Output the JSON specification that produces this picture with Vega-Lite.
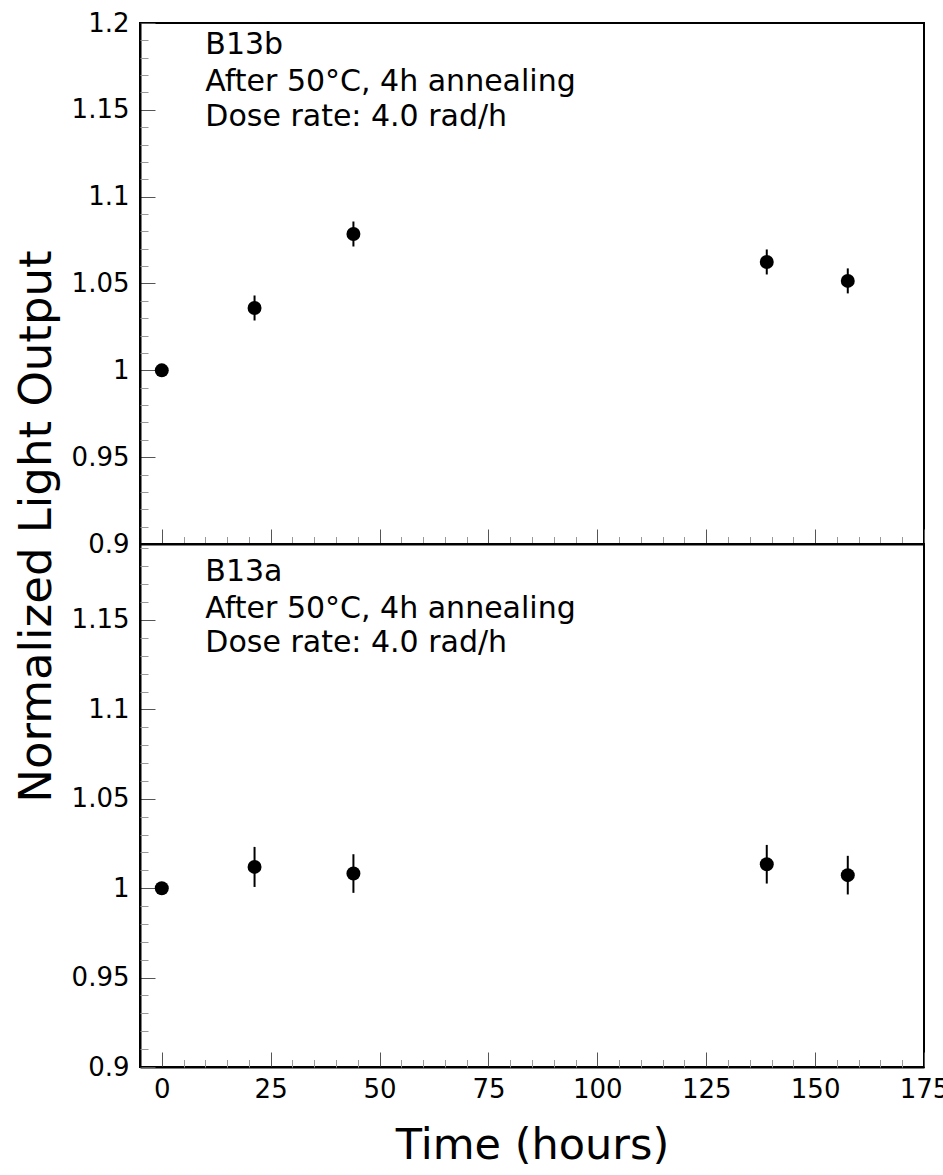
{
  "$schema": "https://vega.github.io/schema/vega-lite/v6.json",
  "background": "white",
  "padding": {"left": 13, "top": 9, "right": 0, "bottom": 0},
  "bounds": "flush",
  "spacing": 0,
  "config": {
    "font": "DejaVu Sans",
    "view": {"stroke": "black", "strokeWidth": 2},
    "axis": {
      "domainColor": "black", "domainWidth": 2, "tickColor": "#555", "tickWidth": 1,
      "labelColor": "black", "titleColor": "black", "grid": false,
      "labelFont": "DejaVu Sans", "titleFont": "DejaVu Sans", "titleFontWeight": "normal",
      "labelFontSize": 26
    }
  },
  "datasets": {
    "obs": [
      {"sample": "B13b", "t": 0, "v": 1.0, "e": 0},
      {"sample": "B13b", "t": 21.3, "v": 1.0359, "e": 0.0072},
      {"sample": "B13b", "t": 44, "v": 1.0785, "e": 0.0072},
      {"sample": "B13b", "t": 138.9, "v": 1.0624, "e": 0.0072},
      {"sample": "B13b", "t": 157.5, "v": 1.0515, "e": 0.0072},
      {"sample": "B13a", "t": 0, "v": 1.0, "e": 0},
      {"sample": "B13a", "t": 21.3, "v": 1.0119, "e": 0.0112},
      {"sample": "B13a", "t": 44, "v": 1.0082, "e": 0.0108},
      {"sample": "B13a", "t": 138.9, "v": 1.0134, "e": 0.0108},
      {"sample": "B13a", "t": 157.5, "v": 1.0073, "e": 0.0108}
    ],
    "notes": [
      {"sample": "B13b", "t": 10, "v": 1.1822, "note": "B13b"},
      {"sample": "B13b", "t": 10, "v": 1.1609, "note": "After 50°C, 4h annealing"},
      {"sample": "B13b", "t": 10, "v": 1.1407, "note": "Dose rate: 4.0 rad/h"},
      {"sample": "B13a", "t": 10, "v": 1.1719, "note": "B13a"},
      {"sample": "B13a", "t": 10, "v": 1.1513, "note": "After 50°C, 4h annealing"},
      {"sample": "B13a", "t": 10, "v": 1.1322, "note": "Dose rate: 4.0 rad/h"}
    ]
  },
  "vconcat": [
    {
      "width": 784,
      "height": 521,
      "layer": [
        {
          "data": {"name": "obs"},
          "transform": [{"filter": "datum.sample === 'B13b'"}],
          "mark": {"type": "errorbar", "thickness": 2, "color": "black"},
          "encoding": {
            "x": {"field": "t", "type": "quantitative", "scale": {"domain": [-5, 175], "nice": false, "zero": false}, "axis": null},
            "y": {"field": "v", "type": "quantitative", "scale": {"domain": [0.9, 1.2], "nice": false, "zero": false}, "axis": null},
            "yError": {"field": "e"}
          }
        },
        {
          "data": {"name": "obs"},
          "transform": [{"filter": "datum.sample === 'B13b'"}],
          "mark": {"type": "point", "filled": true, "size": 195, "color": "black", "opacity": 1},
          "encoding": {
            "x": {"field": "t", "type": "quantitative", "scale": {"domain": [-5, 175], "nice": false, "zero": false},
              "axis": {"values": [0, 25, 50, 75, 100, 125, 150, 175], "labels": false, "tickSize": -15, "title": null, "domain": true}},
            "y": {"field": "v", "type": "quantitative", "scale": {"domain": [0.9, 1.2], "nice": false, "zero": false},
              "axis": {"values": [0.9, 0.95, 1.0, 1.05, 1.1, 1.15, 1.2], "format": ".3~f", "tickSize": -15, "labelPadding": 26,
                "title": "Normalized Light Output", "titleFontSize": 45, "titleX": -104, "titleY": 503, "titleBaseline": "middle", "titleAlign": "center", "titleAngle": -90}}
          }
        },
        {
          "data": {"name": "obs"},
          "transform": [{"filter": "datum.sample === 'B13b'"}],
          "mark": {"type": "point", "opacity": 0},
          "encoding": {
            "x": {"field": "t", "type": "quantitative", "scale": {"domain": [-5, 175], "nice": false, "zero": false},
              "axis": {"orient": "bottom", "values": [-5, 5, 10, 15, 20, 30, 35, 40, 45, 55, 60, 65, 70, 80, 85, 90, 95, 105, 110, 115, 120, 130, 135, 140, 145, 155, 160, 165, 170], "labels": false, "domain": false, "tickSize": -7.5, "tickColor": "#999", "title": null}},
            "y": {"field": "v", "type": "quantitative", "scale": {"domain": [0.9, 1.2], "nice": false, "zero": false},
              "axis": {"orient": "left", "values": [0.91, 0.92, 0.93, 0.94, 0.96, 0.97, 0.98, 0.99, 1.01, 1.02, 1.03, 1.04, 1.06, 1.07, 1.08, 1.09, 1.11, 1.12, 1.13, 1.14, 1.16, 1.17, 1.18, 1.19], "labels": false, "domain": false, "tickSize": -8, "tickColor": "#999", "title": null}}
          }
        },
        {
          "data": {"name": "notes"},
          "transform": [{"filter": "datum.sample === 'B13b'"}],
          "mark": {"type": "text", "align": "left", "baseline": "alphabetic", "fontSize": 30, "color": "black", "font": "DejaVu Sans"},
          "encoding": {
            "x": {"field": "t", "type": "quantitative", "axis": null},
            "y": {"field": "v", "type": "quantitative", "axis": null},
            "text": {"field": "note"}
          }
        }
      ],
      "resolve": {"axis": {"x": "independent", "y": "independent"}}
    },
    {
      "width": 784,
      "height": 523,
      "layer": [
        {
          "data": {"name": "obs"},
          "transform": [{"filter": "datum.sample === 'B13a'"}],
          "mark": {"type": "errorbar", "thickness": 2, "color": "black"},
          "encoding": {
            "x": {"field": "t", "type": "quantitative", "scale": {"domain": [-5, 175], "nice": false, "zero": false}, "axis": null},
            "y": {"field": "v", "type": "quantitative", "scale": {"domain": [0.9, 1.1925], "nice": false, "zero": false}, "axis": null},
            "yError": {"field": "e"}
          }
        },
        {
          "data": {"name": "obs"},
          "transform": [{"filter": "datum.sample === 'B13a'"}],
          "mark": {"type": "point", "filled": true, "size": 195, "color": "black", "opacity": 1},
          "encoding": {
            "x": {"field": "t", "type": "quantitative", "scale": {"domain": [-5, 175], "nice": false, "zero": false},
              "axis": {"values": [0, 25, 50, 75, 100, 125, 150, 175], "tickSize": -15, "labelPadding": 24, "labelFlush": false,
                "title": "Time (hours)", "titleFontSize": 43, "titlePadding": 22}},
            "y": {"field": "v", "type": "quantitative", "scale": {"domain": [0.9, 1.1925], "nice": false, "zero": false},
              "axis": {"values": [0.9, 0.95, 1.0, 1.05, 1.1, 1.15], "format": ".3~f", "tickSize": -15, "labelPadding": 26, "title": null}}
          }
        },
        {
          "data": {"name": "obs"},
          "transform": [{"filter": "datum.sample === 'B13a'"}],
          "mark": {"type": "point", "opacity": 0},
          "encoding": {
            "x": {"field": "t", "type": "quantitative", "scale": {"domain": [-5, 175], "nice": false, "zero": false},
              "axis": {"orient": "bottom", "values": [-5, 5, 10, 15, 20, 30, 35, 40, 45, 55, 60, 65, 70, 80, 85, 90, 95, 105, 110, 115, 120, 130, 135, 140, 145, 155, 160, 165, 170], "labels": false, "domain": false, "tickSize": -7.5, "tickColor": "#999", "title": null}},
            "y": {"field": "v", "type": "quantitative", "scale": {"domain": [0.9, 1.1925], "nice": false, "zero": false},
              "axis": {"orient": "left", "values": [0.91, 0.92, 0.93, 0.94, 0.96, 0.97, 0.98, 0.99, 1.01, 1.02, 1.03, 1.04, 1.06, 1.07, 1.08, 1.09, 1.11, 1.12, 1.13, 1.14, 1.16, 1.17, 1.18, 1.19], "labels": false, "domain": false, "tickSize": -8, "tickColor": "#999", "title": null}}
          }
        },
        {
          "data": {"name": "notes"},
          "transform": [{"filter": "datum.sample === 'B13a'"}],
          "mark": {"type": "text", "align": "left", "baseline": "alphabetic", "fontSize": 30, "color": "black", "font": "DejaVu Sans"},
          "encoding": {
            "x": {"field": "t", "type": "quantitative", "axis": null},
            "y": {"field": "v", "type": "quantitative", "axis": null},
            "text": {"field": "note"}
          }
        }
      ],
      "resolve": {"axis": {"x": "independent", "y": "independent"}}
    }
  ]
}
